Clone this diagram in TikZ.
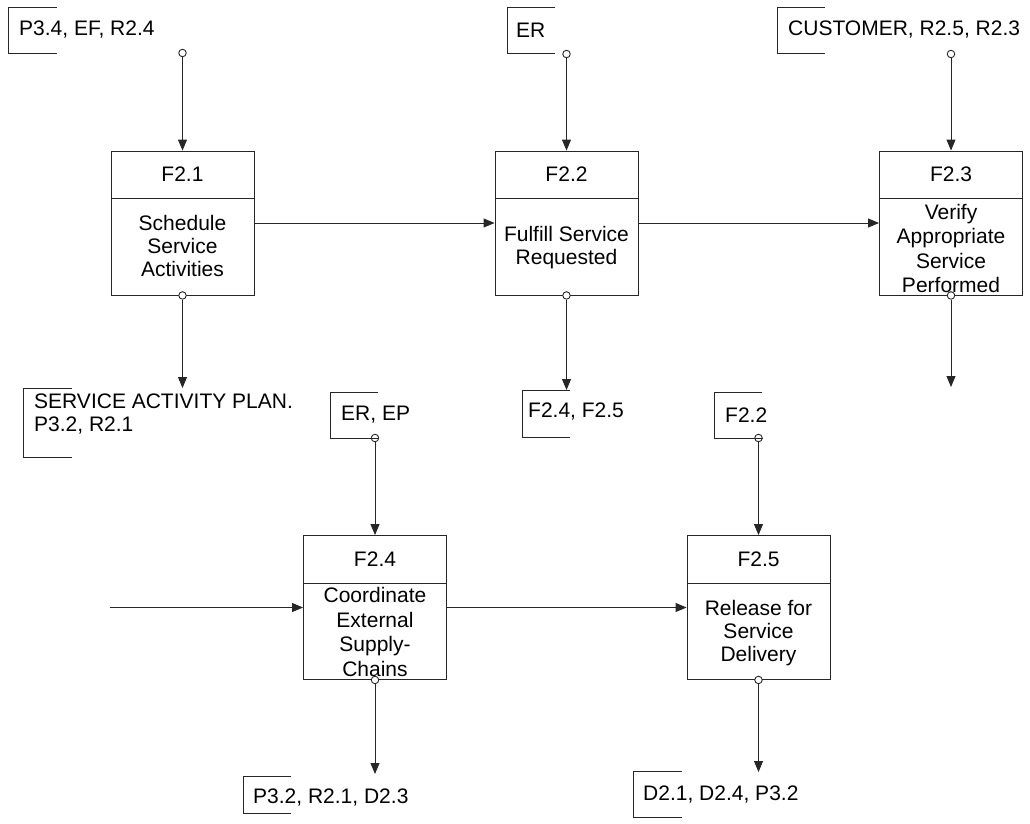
\documentclass[tikz,border=0pt]{standalone}
\usepackage{fontspec}
\setmainfont{Liberation Sans}
\usetikzlibrary{arrows.meta}
\begin{document}
\begin{tikzpicture}[x=1pt,y=-1pt,
  ln/.style={draw=black!85, line width=0.9pt},
  arr/.style={ln, -{Triangle[length=11pt,width=9pt]}},
  func/.style={ln, rectangle, minimum width=143pt, minimum height=144pt, inner sep=0pt},
  port/.style={ln, circle, fill=white, minimum size=7.5pt, inner sep=0pt},
  txt/.style={font=\fontsize{21pt}{23pt}\selectfont, inner sep=0pt},
  body/.style={txt, align=center},
  tallbody/.style={body, font=\fontsize{21pt}{24.5pt}\selectfont},
  lab/.style={txt, anchor=west, align=left}]
\useasboundingbox (0,0) rectangle (1030,823);

% function boxes
\node[func] (f1) at (182.5,223) {};
\node[func] (f2) at (566.5,223) {};
\node[func] (f3) at (951,223) {};
\node[func] (f4) at (375,607.5) {};
\node[func] (f5) at (758.5,607.5) {};

\foreach \b in {f1,f2,f3,f4,f5}{
  \draw[ln] ([yshift=-48pt]\b.north west) -- ([yshift=-48pt]\b.north east);
}

\node[txt] (h1) at ([yshift=-24pt]f1.north) {F2.1};
\node[txt] (h2) at ([yshift=-24pt]f2.north) {F2.2};
\node[txt] (h3) at ([yshift=-24pt]f3.north) {F2.3};
\node[txt] (h4) at ([yshift=-24pt]f4.north) {F2.4};
\node[txt] (h5) at ([yshift=-24pt]f5.north) {F2.5};

\node[body] (b1) at ([yshift=49pt]f1.south) {Schedule\\Service\\Activities};
\node[body] (b2) at ([yshift=48pt]f2.south) {Fulfill Service\\Requested};
\node[tallbody] (b3) at ([yshift=47pt]f3.south) {Verify\\Appropriate\\Service\\Performed};
\node[tallbody] (b4) at ([yshift=48pt]f4.south) {Coordinate\\External\\Supply-\\Chains};
\node[body] (b5) at ([yshift=47pt]f5.south) {Release for\\Service\\Delivery};

% top inputs
\node[port] (t1) at (182.5,53) {};
\node[port] (t2) at (566.5,54) {};
\node[port] (t3) at (951,54) {};
\draw[arr] (t1) -- (f1.north);
\draw[arr] (t2) -- (f2.north);
\draw[arr] (t3) -- (f3.north);

\draw[ln] (57,7) -- (8,7) -- (8,53) -- (57,53);
\node[lab] (l1) at (19,30) {P3.4, EF, R2.4};
\draw[ln] (555,7) -- (507,7) -- (507,53) -- (555,53);
\node[lab] (l2) at (516,30) {ER};
\draw[ln] (825,7) -- (777,7) -- (777,53) -- (825,53);
\node[lab] (l3) at (788,30) {CUSTOMER, R2.5, R2.3};

% horizontal flows
\draw[arr] (f1.east) -- (f2.west);
\draw[arr] (f2.east) -- (f3.west);
\coordinate (in4) at (110,607.5);
\draw[arr] (in4) -- (f4.west);
\draw[arr] (f4.east) -- (f5.west);

% bottom outputs
\node[port] (p1) at (f1.south) {};
\node[port] (p2) at (f2.south) {};
\node[port] (p3) at (f3.south) {};
\node[port] (p4) at (f4.south) {};
\node[port] (p5) at (f5.south) {};
\coordinate (e1) at (182.5,388);
\coordinate (e2) at (566.5,390);
\coordinate (e3) at (951,387);
\coordinate (e4) at (375,774);
\coordinate (e5) at (758.5,772);
\draw[arr] (p1) -- (e1);
\draw[arr] (p2) -- (e2);
\draw[arr] (p3) -- (e3);
\draw[arr] (p4) -- (e4);
\draw[arr] (p5) -- (e5);

\draw[ln] (72,388) -- (23,388) -- (23,457) -- (72,457);
\node[lab] (o1) at (34,414) {SERVICE ACTIVITY PLAN.\\P3.2, R2.1};
\draw[ln] (570,390) -- (522,390) -- (522,437) -- (570,437);
\node[lab] (o2) at (528,412) {F2.4, F2.5};
\draw[ln] (291,776) -- (243,776) -- (243,813) -- (291,813);
\node[lab] (o4) at (253,797) {P3.2, R2.1, D2.3};
\draw[ln] (682,771) -- (633,771) -- (633,817) -- (682,817);
\node[lab] (o5) at (643,794) {D2.1, D2.4, P3.2};

% second-row inputs
\node[port] (q4) at (375,438) {};
\draw[ln] (378,392) -- (330,392) -- (330,438) -- (q4.east);
\node[lab] (m4) at (341,415) {ER, EP};
\draw[arr] (q4) -- (f4.north);
\node[port] (q5) at (758.5,438) {};
\draw[ln] (762,392) -- (714,392) -- (714,438) -- (q5.east);
\node[lab] (m5) at (725,415) {F2.2};
\draw[arr] (q5) -- (f5.north);
\end{tikzpicture}
\end{document}
